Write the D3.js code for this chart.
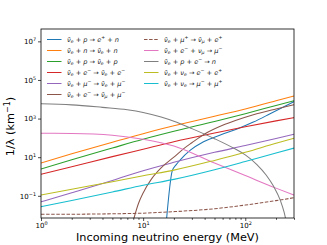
<!DOCTYPE html>
<html>
<head>
<meta charset="utf-8">
<script src="https://cdn.jsdelivr.net/npm/d3@7"></script>
<style>
  body { margin: 0; background: #fff; }
  text { font-family: "DejaVu Sans", sans-serif; }
</style>
</head>
<body>
<script>
// energies (MeV) shared by the smooth curves
var energy = [1, 2, 5, 10, 20, 50, 100, 200, 300];

// 1/lambda (km^-1)
var nuBarN      = [5.0, 15, 60, 166, 420, 1320, 3160, 8300, 14800];
var nuBarP      = [2.45, 7.4, 30, 85, 220, 710, 1780, 4790, 8500];
var nuBarE      = [1.29, 3.2, 10.7, 26, 63, 178, 380, 760, 1120];
var nuBarMu     = [0.049, 0.145, 0.62, 2.0, 5.4, 17.8, 39.8, 93, 155];
var muPlus      = [0.011, 0.0111, 0.0117, 0.0126, 0.0151, 0.0214, 0.0331, 0.0562, 0.0794];
var eNuMu       = [174, 170, 138, 85, 38, 5.0, 1.12, 0.25, 0.11];
var annihE      = [0.11, 0.22, 0.54, 1.10, 2.14, 6.8, 17.8, 52.5, 95.5];
var annihMu     = [0.0275, 0.0575, 0.158, 0.355, 0.71, 2.24, 6.0, 16.6, 29.5];

// curves with their own energy grid (thresholds / cut-offs)
var invBetaE    = [16.9, 19.3, 21, 23, 29, 39, 57, 82, 120, 175, 300];
var invBeta     = [0.005, 2.0, 4.0, 7.1, 23, 63, 141, 282, 661, 1778, 7586];
var muProdE     = [7.9, 9, 10, 12, 15, 20, 25, 30, 40, 60, 80, 120, 200, 300];
var muProd      = [0.004, 0.04, 0.14, 0.71, 2.8, 10, 28, 56, 158, 447, 794, 1585, 3162, 5250];
var pecE        = [1, 2, 4, 7, 10, 15, 20, 30, 50, 80, 100, 130, 160, 190, 220, 240, 260];
var pec         = [5890, 5130, 3800, 2880, 2090, 1200, 724, 302, 91, 26.3, 13.2, 4.17, 1.20, 0.30, 0.060, 0.0141, 0.002];

var xTicks = [1, 10, 100];
var yTicks = [1e-1, 1e1, 1e3, 1e5, 1e7];

var labels = [
  "ν\u0304_{e} + p → e^{+} + n",
  "ν\u0304_{e} + n → ν\u0304_{e} + n",
  "ν\u0304_{e} + p → ν\u0304_{e} + p",
  "ν\u0304_{e} + e^{−} → ν\u0304_{e} + e^{−}",
  "ν\u0304_{e} + μ^{−} → ν\u0304_{e} + μ^{−}",
  "ν\u0304_{e} + e^{−} → ν\u0304_{μ} + μ^{−}",
  "ν\u0304_{e} + μ^{+} → ν\u0304_{μ} + e^{+}",
  "ν\u0304_{e} + e^{−} + ν_{μ} → μ^{−}",
  "ν\u0304_{e} + p + e^{−} → n",
  "ν\u0304_{e} + ν_{e} → e^{−} + e^{+}",
  "ν\u0304_{e} + ν_{e} → μ^{−} + μ^{+}"
];

(function() {

  var colors = ["#1f77b4", "#ff7f0e", "#2ca02c", "#d62728", "#9467bd", "#8c564b",
                "#8c564b", "#e377c2", "#7f7f7f", "#bcbd22", "#17becf"];
  var xsList = [invBetaE, energy, energy, energy, energy, muProdE, energy, energy, pecE, energy, energy];
  var ysList = [invBeta, nuBarN, nuBarP, nuBarE, nuBarMu, muProd, muPlus, eNuMu, pec, annihE, annihMu];

  var series = labels.map(function(l, i) {
    return {label: l, color: colors[i], pts: d3.zip(xsList[i], ysList[i]), dash: i === 6 ? "3.5,1.6" : null};
  });

  var W = 327, H = 245;
  var m = {left: 41, right: 294, top: 29, bottom: 218};

  var svg = d3.select("body").append("svg")
    .attr("width", W)
    .attr("height", H);

  var x = d3.scaleLog().domain([1, 300]).range([m.left, m.right]);
  var y = d3.scaleLog().domain([Math.pow(10, -2.15), Math.pow(10, 7.64)]).range([m.bottom, m.top]);

  svg.append("clipPath").attr("id", "plot")
    .append("rect")
    .attr("x", m.left).attr("y", m.top)
    .attr("width", m.right - m.left).attr("height", m.bottom - m.top);

  // curves
  var line = d3.line()
    .x(function(d) { return x(d[0]); })
    .y(function(d) { return y(d[1]); })
    .curve(d3.curveMonotoneX);

  svg.append("g").attr("clip-path", "url(#plot)")
    .selectAll("path")
    .data(series)
    .enter().append("path")
    .attr("d", function(s) { return line(s.pts); })
    .attr("fill", "none")
    .attr("stroke", function(s) { return s.color; })
    .attr("stroke-width", 1.05)
    .attr("stroke-dasharray", function(s) { return s.dash; });

  // power-of-ten labels with a superscript exponent
  function powLabel(sel, fs) {
    sel.each(function(d) {
      var t = d3.select(this).text(null);
      t.append("tspan").text("10");
      t.append("tspan")
        .attr("dy", -fs * 0.38)
        .style("font-size", (fs * 0.7) + "px")
        .text(String(Math.round(Math.log10(d))).replace("-", "−"));
    });
  }

  // x axis
  var xAxis = svg.append("g")
    .attr("transform", "translate(0," + m.bottom + ")")
    .call(d3.axisBottom(x).tickValues(xTicks).tickSize(3).tickPadding(2));
  var xMinor = [2, 3, 4, 5, 6, 7, 8, 9, 20, 30, 40, 50, 60, 70, 80, 90, 200, 300];
  svg.append("g")
    .attr("transform", "translate(0," + m.bottom + ")")
    .call(d3.axisBottom(x).tickValues(xMinor).tickSize(1.8).tickFormat(""));

  // y axis
  var yAxis = svg.append("g")
    .attr("transform", "translate(" + m.left + ",0)")
    .call(d3.axisLeft(y).tickValues(yTicks).tickSize(3).tickPadding(2));

  svg.selectAll(".domain").remove();
  svg.selectAll(".tick line").attr("stroke", "#000").attr("stroke-width", 0.7);
  xAxis.selectAll("text").style("font-size", "7px").attr("fill", "#000").call(powLabel, 7);
  yAxis.selectAll("text").style("font-size", "7px").attr("fill", "#000").call(powLabel, 7);

  // frame
  svg.append("rect")
    .attr("x", m.left).attr("y", m.top)
    .attr("width", m.right - m.left).attr("height", m.bottom - m.top)
    .attr("fill", "none")
    .attr("stroke", "#000")
    .attr("stroke-width", 0.8);

  // axis labels
  svg.append("text")
    .attr("x", (m.left + m.right) / 2)
    .attr("y", 241)
    .attr("text-anchor", "middle")
    .style("font-size", "11.3px")
    .text("Incoming neutrino energy (MeV)");

  var yl = svg.append("text")
    .attr("transform", "translate(14," + ((m.top + m.bottom) / 2 + 3) + ") rotate(-90)")
    .attr("text-anchor", "middle")
    .style("font-size", "11.3px");
  yl.append("tspan").text("1/λ (km");
  yl.append("tspan").attr("dy", -4.5).style("font-size", "8px").text("−1");
  yl.append("tspan").attr("dy", 4.5).text(")");

  // legend labels: _{..} subscript, ^{..} superscript
  function mathLabel(t, str, fs) {
    var parts = str.split(/([_^]\{[^}]*\})/);
    var shift = 0;
    parts.forEach(function(p) {
      if (!p) return;
      var target = 0, txt = p, size = fs;
      if (p[0] === "_") { target = fs * 0.22; txt = p.slice(2, -1); size = fs * 0.7; }
      else if (p[0] === "^") { target = -fs * 0.4; txt = p.slice(2, -1); size = fs * 0.7; }
      t.append("tspan")
        .attr("dy", target - shift)
        .style("font-size", size + "px")
        .text(txt);
      shift = target;
    });
  }

  var legend = svg.selectAll(".legend")
    .data(series)
    .enter().append("g")
    .attr("class", "legend")
    .attr("transform", function(d, i) {
      var col = i < 6 ? 0 : 1, row = i < 6 ? i : i - 6;
      return "translate(" + (col ? 144 : 47) + "," + (39.5 + row * 11) + ")";
    });

  legend.append("line")
    .attr("x1", 0).attr("x2", 14.5)
    .attr("stroke", function(d) { return d.color; })
    .attr("stroke-width", 1.05)
    .attr("stroke-dasharray", function(d) { return d.dash; });

  legend.append("text")
    .attr("x", 20)
    .attr("y", 2.3)
    .style("font-size", "6.6px")
    .style("font-style", "italic")
    .attr("fill", "#222")
    .each(function(d) { mathLabel(d3.select(this), d.label, 6.6); });

})();
</script>
</body>
</html>
